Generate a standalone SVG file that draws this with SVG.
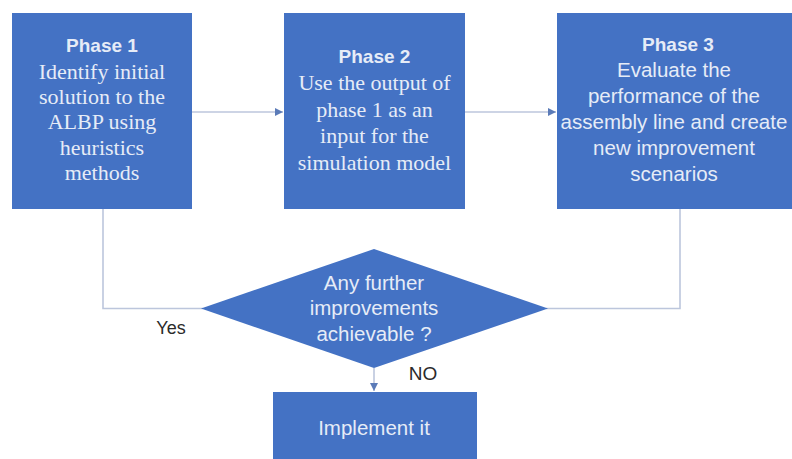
<svg xmlns="http://www.w3.org/2000/svg" width="792" height="459" viewBox="0 0 792 459">
<style>
.box{fill:#4472C4;}
.t{fill:#e6ecf7;text-anchor:middle;}
.sans{font-family:"Liberation Sans",Arial,sans-serif;}
.serif{font-family:"Liberation Serif","Times New Roman",serif;font-size:22px;}
.head{font-weight:bold;font-size:19px;}
.s21{font-size:20.5px;}
.lbl{fill:#2b2b2b;font-family:"Liberation Sans",Arial,sans-serif;}
.c{fill:none;stroke:#bcc6dc;stroke-width:1.6;}
</style>
<defs>
<marker id="ah" viewBox="0 0 6 6" refX="6" refY="3" markerWidth="5" markerHeight="5" orient="auto">
<path d="M0,0 L6,3 L0,6 z" fill="#5b7bb8"/>
</marker>
</defs>
<rect width="792" height="459" fill="#ffffff"/>
<g id="connectors">
<line class="c" x1="192" y1="112" x2="283" y2="112" marker-end="url(#ah)"/>
<line class="c" x1="465" y1="112" x2="556" y2="112" marker-end="url(#ah)"/>
<polyline class="c" points="103,209 103,308.5 203,308.5"/>
<polyline class="c" points="680,209 680,308.5 546,308.5"/>
<line class="c" x1="374" y1="368" x2="374" y2="391" marker-end="url(#ah)"/>
</g>
<g id="phase1">
<rect class="box" x="12" y="13" width="180" height="196"/>
<text class="t sans head" x="102" y="52">Phase 1</text>
<text class="t serif" x="102" y="79">Identify initial</text>
<text class="t serif" x="102" y="104">solution to the</text>
<text class="t serif" x="102" y="129">ALBP using</text>
<text class="t serif" x="102" y="155">heuristics</text>
<text class="t serif" x="102" y="180">methods</text>
</g>
<g id="phase2">
<rect class="box" x="284" y="13" width="181" height="196"/>
<text class="t sans head" x="374.5" y="63">Phase 2</text>
<text class="t serif" x="374.5" y="90">Use the output of</text>
<text class="t serif" x="374.5" y="117">phase 1 as an</text>
<text class="t serif" x="374.5" y="143">input for the</text>
<text class="t serif" x="374.5" y="170">simulation model</text>
</g>
<g id="phase3">
<rect class="box" x="557" y="13" width="245" height="196"/>
<text class="t sans head" x="678" y="51">Phase 3</text>
<text class="t sans s21" x="674" y="77">Evaluate the</text>
<text class="t sans s21" x="674" y="103">performance of the</text>
<text class="t sans s21" x="674" y="129">assembly line and create</text>
<text class="t sans s21" x="674" y="155">new improvement</text>
<text class="t sans s21" x="674" y="181">scenarios</text>
</g>
<g id="decision">
<polygon class="box" points="374,249 548,308.5 374,368 201,308.5"/>
<text class="t sans s21" x="374" y="290">Any further</text>
<text class="t sans s21" x="374" y="315">improvements</text>
<text class="t sans s21" x="374" y="341">achievable ?</text>
</g>
<g id="implement">
<rect class="box" x="273" y="392" width="204" height="80"/>
<text class="t sans s21" x="374" y="435">Implement it</text>
</g>
<g id="labels">
<text class="lbl" x="171" y="334" font-size="18" text-anchor="middle">Yes</text>
<text class="lbl" x="423" y="380" font-size="19" text-anchor="middle">NO</text>
</g>
</svg>
